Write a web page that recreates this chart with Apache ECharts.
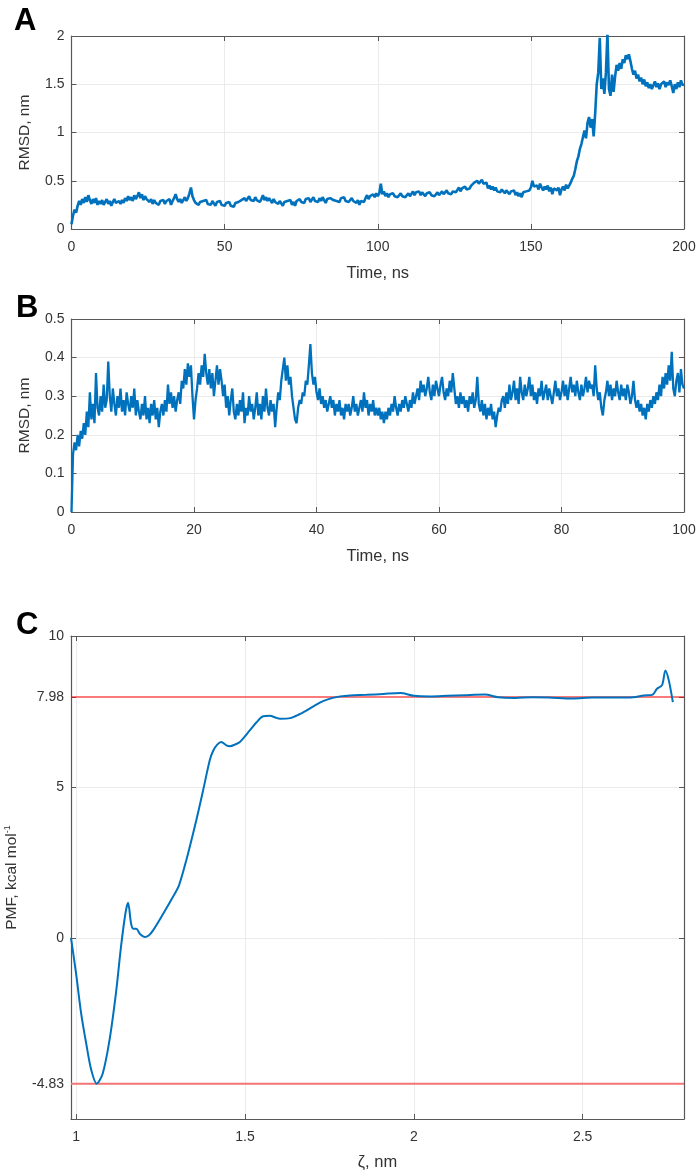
<!DOCTYPE html>
<html>
<head>
<meta charset="utf-8">
<script src="https://cdn.jsdelivr.net/npm/echarts@6.0.0/dist/echarts.min.js"></script>
<style>
  html, body { margin: 0; padding: 0; background: #fff; }
  #main { width: 699px; height: 1171px; }
</style>
</head>
<body>
<div id="main"></div>
<script>
// Panel A: RMSD (nm), one sample per 0.5 ns, 0..200 ns
const stepA = 0.5;
const rmsdA = [
  0.05, 0.14, 0.20, 0.17, 0.24, 0.29, 0.25, 0.31, 0.27, 0.33,
  0.28, 0.35, 0.30, 0.26, 0.31, 0.27, 0.32, 0.25, 0.29, 0.26,
  0.30, 0.25, 0.28, 0.31, 0.26, 0.29, 0.24, 0.28, 0.31, 0.27,
  0.25, 0.29, 0.26, 0.30, 0.27, 0.32, 0.29, 0.34, 0.30, 0.33,
  0.29, 0.35, 0.31, 0.34, 0.38, 0.32, 0.36, 0.30, 0.34, 0.31,
  0.33, 0.28, 0.31, 0.26, 0.30, 0.27, 0.29, 0.25, 0.29, 0.27,
  0.30, 0.26, 0.29, 0.27, 0.31, 0.25, 0.29, 0.32, 0.36, 0.31,
  0.28, 0.31, 0.27, 0.30, 0.33, 0.29, 0.32, 0.37, 0.43, 0.34,
  0.30, 0.27, 0.29, 0.25, 0.28, 0.26, 0.29, 0.27, 0.30, 0.26,
  0.28, 0.25, 0.29, 0.27, 0.24, 0.28, 0.26, 0.29, 0.25, 0.27,
  0.24, 0.27, 0.25, 0.28, 0.24, 0.26, 0.23, 0.27, 0.25, 0.28,
  0.27, 0.30, 0.28, 0.32, 0.29, 0.31, 0.34, 0.30, 0.32, 0.29,
  0.33, 0.30, 0.32, 0.28, 0.31, 0.35, 0.30, 0.33, 0.29, 0.32,
  0.30, 0.27, 0.31, 0.28, 0.30, 0.26, 0.29, 0.27, 0.24, 0.28,
  0.26, 0.29, 0.27, 0.30, 0.25, 0.28, 0.24, 0.29, 0.27, 0.31,
  0.28, 0.30, 0.27, 0.31, 0.29, 0.32, 0.28, 0.30, 0.33, 0.29,
  0.31, 0.28, 0.32, 0.29, 0.33, 0.30, 0.27, 0.31, 0.29, 0.32,
  0.34, 0.30, 0.32, 0.29, 0.31, 0.28, 0.32, 0.30, 0.33, 0.29,
  0.31, 0.28, 0.30, 0.32, 0.29, 0.31, 0.27, 0.30, 0.25, 0.29,
  0.31, 0.28, 0.32, 0.35, 0.31, 0.34, 0.32, 0.36, 0.33, 0.37,
  0.34, 0.37, 0.47, 0.36, 0.39, 0.34, 0.37, 0.33, 0.36, 0.34,
  0.37, 0.34, 0.36, 0.33, 0.35, 0.37, 0.34, 0.36, 0.33, 0.35,
  0.37, 0.34, 0.36, 0.39, 0.35, 0.38, 0.36, 0.39, 0.35, 0.38,
  0.36, 0.34, 0.37, 0.35, 0.38, 0.35, 0.37, 0.34, 0.36, 0.38,
  0.35, 0.37, 0.39, 0.36, 0.38, 0.40, 0.37, 0.39, 0.36, 0.39,
  0.41, 0.38, 0.40, 0.43, 0.39, 0.42, 0.40, 0.44, 0.41, 0.43,
  0.42, 0.45, 0.43, 0.48, 0.46, 0.50, 0.47, 0.49, 0.51, 0.47,
  0.45, 0.48, 0.42, 0.45, 0.41, 0.44, 0.40, 0.43, 0.39, 0.41,
  0.38, 0.41, 0.39, 0.37, 0.40, 0.38, 0.36, 0.39, 0.37, 0.40,
  0.35, 0.38, 0.34, 0.37, 0.33, 0.38, 0.36, 0.39, 0.37, 0.40,
  0.43, 0.50, 0.44, 0.42, 0.45, 0.41, 0.47, 0.43, 0.40, 0.44,
  0.41, 0.45, 0.39, 0.43, 0.36, 0.42, 0.44, 0.40, 0.43, 0.35,
  0.41, 0.44, 0.40, 0.46, 0.42, 0.45, 0.48, 0.52, 0.55, 0.62,
  0.70, 0.75, 0.83, 0.88, 0.95, 1.02, 0.94, 1.10, 1.16, 1.05,
  1.14, 0.96, 1.20, 1.50, 1.62, 1.98, 1.45, 1.56, 1.40, 1.62,
  2.03, 1.45, 1.38, 1.60, 1.42, 1.58, 1.70, 1.64, 1.72, 1.66,
  1.76, 1.72, 1.80, 1.76, 1.81, 1.74, 1.66, 1.60, 1.64, 1.56,
  1.60, 1.53, 1.57, 1.50, 1.55, 1.48, 1.52, 1.46, 1.50, 1.45,
  1.49, 1.53, 1.47, 1.51, 1.45, 1.50, 1.48, 1.53, 1.47, 1.52,
  1.49, 1.54, 1.48, 1.41, 1.50, 1.45, 1.52, 1.47, 1.54, 1.49,
  1.50
];

// Panel B: RMSD (nm), one sample per 0.25 ns, 0..100 ns
const stepB = 0.25;
const rmsdB = [
  0.00, 0.15, 0.18, 0.16, 0.20, 0.17, 0.21, 0.19, 0.23, 0.20,
  0.26, 0.22, 0.31, 0.24, 0.28, 0.23, 0.36, 0.27, 0.25, 0.30,
  0.26, 0.33, 0.27, 0.29, 0.39, 0.30, 0.26, 0.32, 0.28, 0.25,
  0.30, 0.27, 0.32, 0.26, 0.29, 0.25, 0.31, 0.28, 0.26, 0.30,
  0.27, 0.32, 0.25, 0.29, 0.26, 0.24, 0.28, 0.25, 0.30, 0.24,
  0.27, 0.23, 0.28, 0.25, 0.29, 0.24, 0.27, 0.22, 0.26, 0.28,
  0.25, 0.29, 0.26, 0.33, 0.28, 0.31, 0.27, 0.30, 0.26, 0.29,
  0.31, 0.28, 0.34, 0.32, 0.37, 0.33, 0.385, 0.35, 0.38, 0.30,
  0.24, 0.29, 0.32, 0.36, 0.33, 0.38, 0.35, 0.41, 0.36, 0.33,
  0.37, 0.32, 0.36, 0.30, 0.34, 0.38, 0.33, 0.37, 0.34, 0.30,
  0.33, 0.27, 0.30, 0.25, 0.29, 0.32, 0.26, 0.24, 0.28, 0.25,
  0.29, 0.26, 0.31, 0.23, 0.27, 0.25, 0.30, 0.26, 0.28, 0.24,
  0.27, 0.31, 0.25, 0.28, 0.24, 0.30, 0.26, 0.32, 0.27, 0.25,
  0.29, 0.26, 0.28, 0.22, 0.27, 0.31, 0.29, 0.34, 0.37, 0.40,
  0.34, 0.38, 0.33, 0.35, 0.30, 0.27, 0.24, 0.23, 0.27, 0.29,
  0.28, 0.31, 0.30, 0.34, 0.33, 0.38, 0.435, 0.36, 0.33, 0.35,
  0.31, 0.29, 0.32, 0.28, 0.30, 0.27, 0.29, 0.26, 0.28, 0.30,
  0.27, 0.29, 0.25, 0.28, 0.26, 0.29, 0.25, 0.27, 0.24, 0.28,
  0.26, 0.28, 0.25, 0.27, 0.30, 0.26, 0.28, 0.25, 0.27, 0.29,
  0.26, 0.31, 0.27, 0.29, 0.25, 0.28, 0.26, 0.29, 0.25, 0.27,
  0.25, 0.27, 0.24, 0.26, 0.23, 0.26, 0.24, 0.27, 0.25, 0.28,
  0.26, 0.30, 0.27, 0.25, 0.28, 0.26, 0.29, 0.27, 0.30, 0.28,
  0.26, 0.29, 0.27, 0.31, 0.28, 0.30, 0.32, 0.29, 0.34, 0.31,
  0.33, 0.30, 0.32, 0.35, 0.31, 0.29, 0.33, 0.30, 0.34, 0.32,
  0.30, 0.33, 0.35, 0.31, 0.29, 0.32, 0.30, 0.34, 0.31, 0.36,
  0.32, 0.28, 0.30, 0.27, 0.31, 0.28, 0.30, 0.27, 0.29, 0.26,
  0.30, 0.28, 0.31, 0.27, 0.29, 0.35, 0.28, 0.26, 0.29, 0.25,
  0.28, 0.24, 0.27, 0.25, 0.28, 0.24, 0.26, 0.22, 0.25, 0.27,
  0.26, 0.29, 0.30, 0.27, 0.31, 0.28, 0.33, 0.29, 0.31, 0.34,
  0.29, 0.32, 0.28, 0.35, 0.31, 0.29, 0.33, 0.30, 0.32, 0.35,
  0.30, 0.33, 0.29, 0.31, 0.28, 0.32, 0.30, 0.34, 0.29, 0.31,
  0.33, 0.29, 0.32, 0.30, 0.28, 0.31, 0.34, 0.30, 0.32, 0.29,
  0.31, 0.34, 0.30, 0.33, 0.29, 0.32, 0.35, 0.31, 0.33, 0.30,
  0.34, 0.31, 0.29, 0.33, 0.30, 0.32, 0.35, 0.31, 0.34, 0.32,
  0.33, 0.30, 0.38, 0.32, 0.29, 0.31, 0.27, 0.25, 0.29, 0.31,
  0.34, 0.30, 0.33, 0.29, 0.32, 0.30, 0.34, 0.31, 0.29, 0.33,
  0.30, 0.32, 0.29, 0.33, 0.31, 0.28, 0.30, 0.34, 0.29, 0.27,
  0.29, 0.26, 0.28, 0.25, 0.27, 0.24, 0.28, 0.26, 0.29, 0.27,
  0.30, 0.28, 0.31, 0.29, 0.33, 0.30, 0.35, 0.32, 0.36, 0.33,
  0.38, 0.34, 0.415, 0.32, 0.30, 0.34, 0.36, 0.31, 0.37, 0.33,
  0.32
];

// Panel C: PMF (kcal/mol) against zeta (nm)
const zeta = [
  0.985, 1.0, 1.015, 1.03, 1.045, 1.061, 1.079, 1.099, 1.118, 1.133,
  1.146, 1.154, 1.163, 1.17, 1.178, 1.19, 1.203, 1.215, 1.228, 1.258,
  1.287, 1.305, 1.327, 1.356, 1.376, 1.396, 1.406, 1.418, 1.43, 1.445,
  1.455, 1.47, 1.485, 1.515, 1.535, 1.554, 1.574, 1.59, 1.604, 1.634,
  1.66, 1.683, 1.71, 1.733, 1.76, 1.782, 1.812, 1.86, 1.91, 1.96,
  2.0, 2.05, 2.1, 2.15, 2.21, 2.25, 2.3, 2.35, 2.4, 2.47,
  2.53, 2.6, 2.65, 2.681, 2.706, 2.72, 2.735, 2.745, 2.755, 2.767
];
const pmf = [
  0, -1.18, -2.5, -3.5, -4.38, -4.83, -4.49, -3.39, -1.84, -0.3,
  0.8, 1.16, 0.47, 0.3, 0.3, 0.12, 0.03, 0.08, 0.25, 0.8,
  1.36, 1.75, 2.6, 3.9, 4.88, 5.89, 6.2, 6.4, 6.49, 6.38,
  6.35, 6.4, 6.49, 6.88, 7.15, 7.34, 7.36, 7.3, 7.26, 7.28,
  7.4, 7.54, 7.72, 7.85, 7.95, 8.0, 8.03, 8.05, 8.08, 8.11,
  8.02, 8.0, 8.02, 8.04, 8.06, 7.97, 7.95, 7.97, 7.96, 7.93,
  7.96, 7.96, 7.97, 8.03, 8.05, 8.25, 8.37, 8.86, 8.53, 7.81
];
const pmfMax = 7.98;
const pmfMin = -4.83;

const xTicksC = [1, 1.5, 2, 2.5];
const yTicksC = [-4.83, 0, 5, 7.98, 10];

const FONT = '"Liberation Sans", Arial, sans-serif';
const boxColor = '#585858';
const textColor = '#333';
const gridColor = '#ebebeb';
const lineBlue = '#0072BD';

function boxAxis(gridIndex, pos, range, name, nameGap, main) {
  const isX = (pos === 'bottom' || pos === 'top');
  const ax = {
    gridIndex,
    type: 'value',
    position: pos,
    min: range.min,
    max: range.max,
    axisLine: { show: true, onZero: false, lineStyle: { color: boxColor, width: 1.2 } },
    axisTick: { show: true, inside: true, length: 5, lineStyle: { color: boxColor } },
    axisLabel: { show: main, fontSize: 14, color: textColor, fontFamily: FONT,
      margin: isX ? 11 : 7 },
    splitLine: { show: main, lineStyle: { color: gridColor, width: 1 } }
  };
  if (range.interval !== undefined) ax.interval = range.interval;
  if (range.ticks) {
    ax.axisTick.customValues = range.ticks;
    ax.axisLabel.customValues = range.ticks;
  }
  if (main && name) {
    ax.name = name;
    ax.nameLocation = 'middle';
    ax.nameGap = nameGap;
    ax.nameTextStyle = {
      fontSize: isX ? 16.5 : 15.5, color: textColor, fontFamily: FONT, lineHeight: 18,
      rich: {
        sup: { fontSize: 9, lineHeight: 10, verticalAlign: 'top', color: textColor, fontFamily: FONT }
      }
    };
  }
  return ax;
}

const xA = { min: 0, max: 200, interval: 50 };
const yA = { min: 0, max: 2, interval: 0.5 };
const xB = { min: 0, max: 100, interval: 20 };
const yB = { min: 0, max: 0.5, interval: 0.1 };
const xC = { min: 0.985, max: 2.8, ticks: xTicksC };
const yC = { min: -6, max: 10, ticks: yTicksC };

function refLine(y, color, width) {
  return {
    type: 'line',
    xAxisIndex: 4,
    yAxisIndex: 4,
    showSymbol: false,
    silent: true,
    lineStyle: { color, width },
    data: [[xC.min, y], [xC.max, y]],
    z: 2
  };
}

const chart = echarts.init(document.getElementById('main'));

const option = {
  animation: false,
  textStyle: { fontFamily: FONT },
  grid: [
    { left: 71.5, right: 15, top: 36, height: 193, outerBoundsMode: 'none' },
    { left: 71.5, right: 15, top: 319, height: 193, outerBoundsMode: 'none' },
    { left: 71, right: 15, top: 636, height: 483, outerBoundsMode: 'none' }
  ],
  xAxis: [
    boxAxis(0, 'bottom', xA, 'Time, ns', 35, true),
    boxAxis(0, 'top', xA, null, 0, false),
    boxAxis(1, 'bottom', xB, 'Time, ns', 35, true),
    boxAxis(1, 'top', xB, null, 0, false),
    boxAxis(2, 'bottom', xC, 'ζ, nm', 34, true),
    boxAxis(2, 'top', xC, null, 0, false)
  ],
  yAxis: [
    boxAxis(0, 'left', yA, 'RMSD, nm', 38, true),
    boxAxis(0, 'right', yA, null, 0, false),
    boxAxis(1, 'left', yB, 'RMSD, nm', 38, true),
    boxAxis(1, 'right', yB, null, 0, false),
    boxAxis(2, 'left', yC, 'PMF, kcal mol{sup|-1}', 47, true),
    boxAxis(2, 'right', yC, null, 0, false)
  ],
  graphic: [
    { type: 'text', left: 14, top: 6, style: { text: 'A', fontSize: 31, fontWeight: 'bold', fontFamily: FONT, fill: '#000' } },
    { type: 'text', left: 16, top: 293, style: { text: 'B', fontSize: 31, fontWeight: 'bold', fontFamily: FONT, fill: '#000' } },
    { type: 'text', left: 16, top: 610, style: { text: 'C', fontSize: 31, fontWeight: 'bold', fontFamily: FONT, fill: '#000' } }
  ],
  series: [
    {
      type: 'line',
      xAxisIndex: 0,
      yAxisIndex: 0,
      showSymbol: false,
      silent: true,
      lineStyle: { color: lineBlue, width: 2.6 },
      data: rmsdA.map((v, i) => [i * stepA, v])
    },
    {
      type: 'line',
      xAxisIndex: 2,
      yAxisIndex: 2,
      showSymbol: false,
      silent: true,
      lineStyle: { color: lineBlue, width: 2.3 },
      data: rmsdB.map((v, i) => [i * stepB, v])
    },
    refLine(pmfMax, '#ff0000', 1),
    refLine(pmfMin, '#f27474', 2),
    {
      type: 'line',
      xAxisIndex: 4,
      yAxisIndex: 4,
      showSymbol: false,
      silent: true,
      smooth: 0.3,
      lineStyle: { color: lineBlue, width: 2 },
      data: zeta.map((z, i) => [z, pmf[i]]),
      z: 3
    }
  ]
};

chart.setOption(option);
</script>
</body>
</html>
